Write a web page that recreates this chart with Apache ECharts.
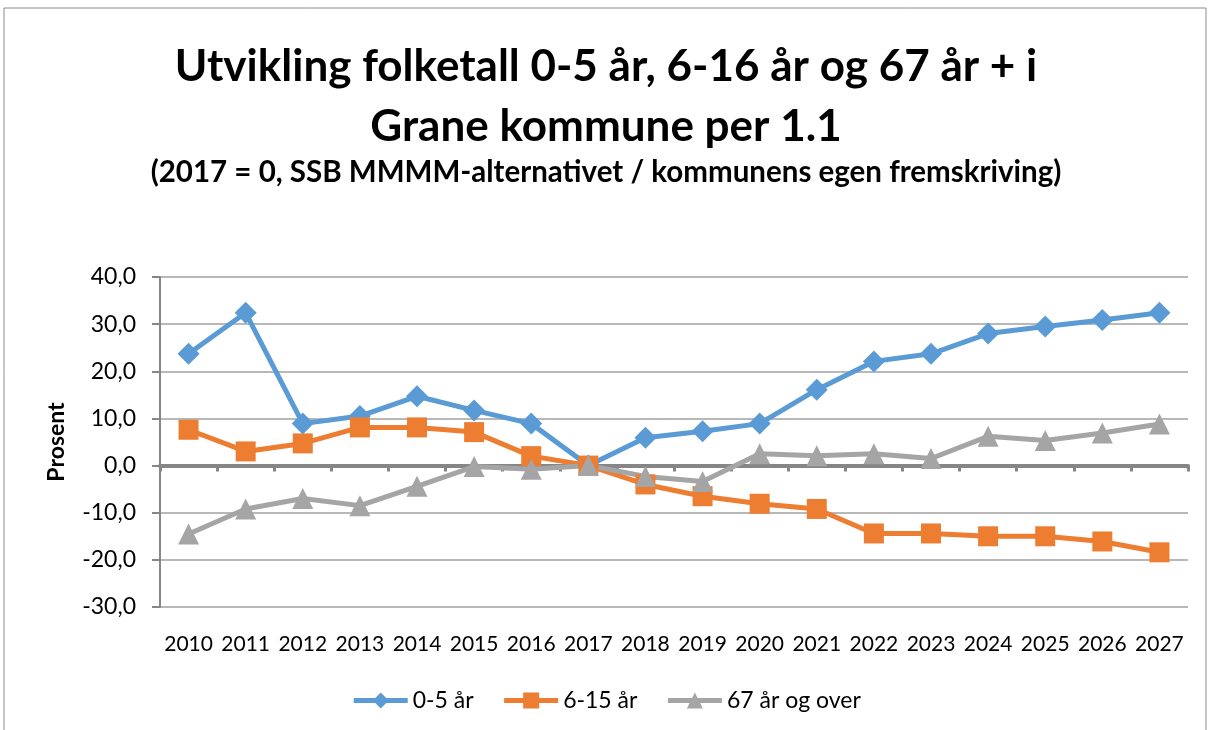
<!DOCTYPE html>
<html lang="no">
<head>
    <meta charset="UTF-8">
    <script type="text/javascript" src="https://cdn.jsdelivr.net/npm/echarts@6/dist/echarts.min.js"></script>
    <title>Utvikling folketall Grane</title>
    <style>
        body { margin: 0; background: #fff; }
    </style>
</head>
<body>
<div id="chart" style="width: 1212px;height:730px;"></div>
<script type="text/javascript">
    // data lest av figuren
    var years = ['2010','2011','2012','2013','2014','2015','2016','2017','2018',
                 '2019','2020','2021','2022','2023','2024','2025','2026','2027'];
    var age0to5 = [23.7, 32.4, 8.9, 10.5, 14.7, 11.7, 8.9, 0, 5.9,
                   7.3, 8.9, 16.1, 22.1, 23.7, 28.0, 29.5, 30.9, 32.4];
    var age6to15 = [7.6, 3.0, 4.7, 8.1, 8.1, 7.1, 2.0, 0, -4.0,
                    -6.5, -8.1, -9.2, -14.4, -14.4, -15.0, -15.0, -16.1, -18.4];
    var age67plus = [-14.5, -9.2, -7.0, -8.5, -4.4, -0.2, -0.8, 0, -2.3,
                     -3.4, 2.5, 2.1, 2.5, 1.5, 6.2, 5.3, 6.9, 8.8];
    var seriesNames = ['0-5 år', '6-15 år', '67 år og over'];

    var font = 'Lato, "Liberation Sans", sans-serif';
    var chart = echarts.init(document.getElementById('chart'));

    function lineSeries(name, data, color, symbol, size) {
        return {
            name: name,
            type: 'line',
            data: data,
            symbol: symbol,
            symbolSize: size,
            showAllSymbol: true,
            lineStyle: { color: color, width: 5 },
            itemStyle: { color: color },
            z: 3
        };
    }

    chart.setOption({
        animation: false,
        textStyle: { fontFamily: font },
        title: [{
            text: 'Utvikling folketall 0-5 år, 6-16 år og 67 år + i\nGrane kommune per 1.1',
            left: 'center',
            top: 32,
            textStyle: { fontSize: 44, fontWeight: 'bold', lineHeight: 60, color: '#000', fontFamily: font }
        }, {
            text: '(2017 = 0, SSB MMMM-alternativet / kommunens egen fremskriving)',
            left: 'center',
            top: 152,
            textStyle: { fontSize: 29.5, fontWeight: 'bold', color: '#000', fontFamily: font }
        }],
        graphic: [{
            type: 'rect',
            shape: { x: 4, y: 8, width: 1202, height: 740 },
            style: { fill: 'none', stroke: '#8c8c8c', lineWidth: 1 },
            silent: true
        }],
        legend: {
            data: seriesNames,
            top: 684,
            left: 'center',
            itemWidth: 54,
            itemHeight: 20,
            itemGap: 28,
            lineStyle: { width: 5 },
            textStyle: { fontSize: 23, color: '#000', fontFamily: font }
        },
        grid: { left: 160, right: 24, top: 277, bottom: 123, containLabel: false },
        xAxis: [{
            type: 'category',
            data: years,
            position: 'bottom',
            axisLine: { show: false, onZero: false },
            axisTick: { show: false },
            axisLabel: { fontSize: 21, color: '#000', margin: 27, interval: 0 }
        }, {
            type: 'category',
            data: years,
            position: 'bottom',
            axisLine: { show: true, onZero: true, lineStyle: { color: '#868686', width: 4 } },
            axisTick: { show: true, length: 6, lineStyle: { color: '#868686', width: 3 } },
            axisLabel: { show: false }
        }],
        yAxis: {
            type: 'value',
            min: -30,
            max: 40,
            interval: 10,
            name: 'Prosent',
            nameLocation: 'middle',
            nameGap: 92,
            nameTextStyle: { fontSize: 23, fontWeight: 'bold', color: '#000' },
            axisLine: { show: true, lineStyle: { color: '#868686', width: 2 } },
            axisTick: { show: true, length: 8, lineStyle: { color: '#868686', width: 2 } },
            splitLine: { lineStyle: { color: '#a0a0a0', width: 1.5 } },
            axisLabel: {
                fontSize: 23, color: '#000', margin: 24,
                formatter: function (v) { return v.toFixed(1).replace('.', ','); }
            }
        },
        series: [
            lineSeries(seriesNames[0], age0to5, '#5B9BD5', 'diamond', 22),
            lineSeries(seriesNames[1], age6to15, '#ED7D31', 'rect', 20),
            lineSeries(seriesNames[2], age67plus, '#A5A5A5', 'triangle', 21)
        ]
    });
</script>
</body>
</html>
